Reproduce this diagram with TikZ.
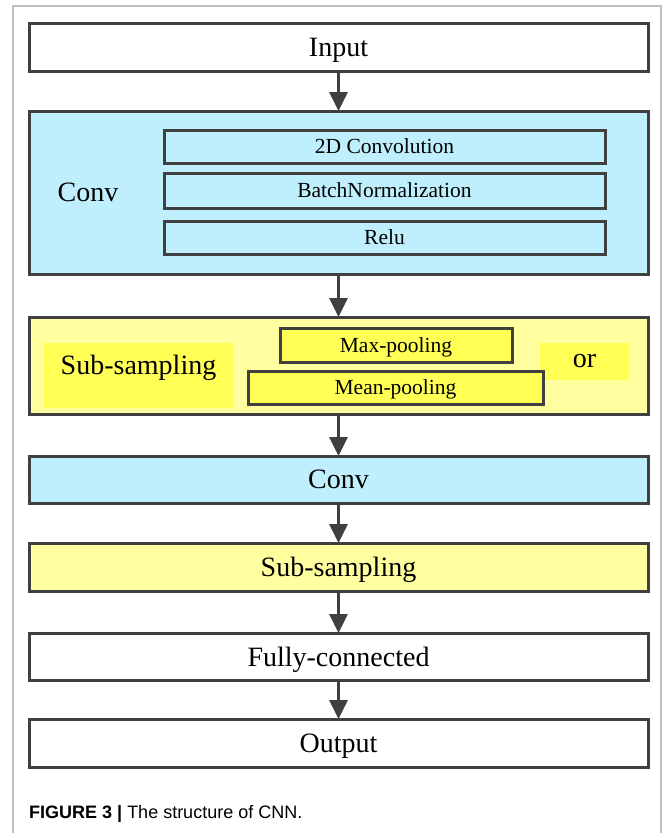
\documentclass[tikz,border=0pt]{standalone}
\usepackage{fontspec}
\setmainfont{Liberation Serif}
\newfontfamily\capfont{Liberation Sans}
\usetikzlibrary{arrows.meta, positioning}
\definecolor{cConv}{RGB}{191, 239, 252}
\definecolor{cSub}{RGB}{255, 255, 160}
\definecolor{cPool}{RGB}{255, 255, 85}
\definecolor{bDark}{RGB}{64, 64, 64}
\definecolor{gFrame}{RGB}{190, 190, 190}
\newcommand\mainsize{\fontsize{28}{32}\selectfont}
\newcommand\innersize{\fontsize{21.5}{24}\selectfont}

\begin{document}
\begin{tikzpicture}[
    x=1pt, y=-1pt,
    >={Triangle[width=18pt, length=19pt]},
    block/.style={
        draw=bDark,
        line width=3pt,
        fill=#1,
        minimum width=619pt,
        inner sep=0pt,
        outer sep=0pt,
        font=\mainsize,
        text depth=0pt
    },
    block/.default=white,
    inner/.style={
        draw=bDark,
        line width=3pt,
        fill=#1,
        minimum height=33pt,
        inner sep=0pt,
        outer sep=0pt,
        font=\innersize,
        text depth=0pt
    },
    tag/.style={fill=cPool, inner sep=0pt, font=\mainsize},
    arrow/.style={->, line width=3pt, draw=bDark}
]
\useasboundingbox (0,0) rectangle (663,833);

% page frame
\draw[gFrame, line width=1.5pt] (13,833) -- (13,6) -- (661,6) -- (661,833);

\node[block, minimum height=48pt] (input) at (338.5,47) {Input};

% Conv block
\node[block=cConv, minimum height=163pt, below=40pt of input] (conv) {};
\node[font=\mainsize] (convlbl) at (88,192) {Conv};
\node[inner=cConv, minimum width=441pt] (conv2d) at (384.5,146.5) {2D Convolution};
\node[inner=cConv, minimum width=441pt, minimum height=35pt] (bn) at (384.5,190.5) {BatchNormalization};
\node[inner=cConv, minimum width=441pt] (relu) at (384.5,237.5) {Relu};

% Sub-sampling block
\node[block=cSub, minimum height=97pt, below=43pt of conv] (sub) {};
\node[tag, minimum width=189pt, minimum height=65pt, text height=19pt, text depth=22pt] (sublbl) at (138.5,375.5) {Sub-sampling};
\node[tag, minimum width=89pt, minimum height=37pt] (orlbl) at (584.5,361.5) {or};
\node[inner=cPool, minimum width=232pt, minimum height=34pt] (maxpool) at (396,345) {Max-pooling};
\node[inner=cPool, minimum width=295pt] (meanpool) at (395.5,387.5) {Mean-pooling};

% rest of the chain
\node[block=cConv, minimum height=47pt, below=42pt of sub] (conv2) {Conv};
\node[block=cSub, minimum height=48pt, below=40pt of conv2] (sub2) {Sub-sampling};
\node[block, minimum height=47pt, below=42pt of sub2] (fc) {Fully-connected};
\node[block, minimum height=48pt, below=39pt of fc] (output) {Output};

\draw[arrow] (input) -- (conv);
\draw[arrow] (conv) -- (sub);
\draw[arrow] (sub) -- (conv2);
\draw[arrow] (conv2) -- (sub2);
\draw[arrow] (sub2) -- (fc);
\draw[arrow] (fc) -- (output);

\node[anchor=base west, inner sep=0pt, font=\capfont\fontsize{18}{20}\selectfont] (caption) at (29,818) {\textbf{FIGURE 3 |} The structure of CNN.};

\end{tikzpicture}
\end{document}
